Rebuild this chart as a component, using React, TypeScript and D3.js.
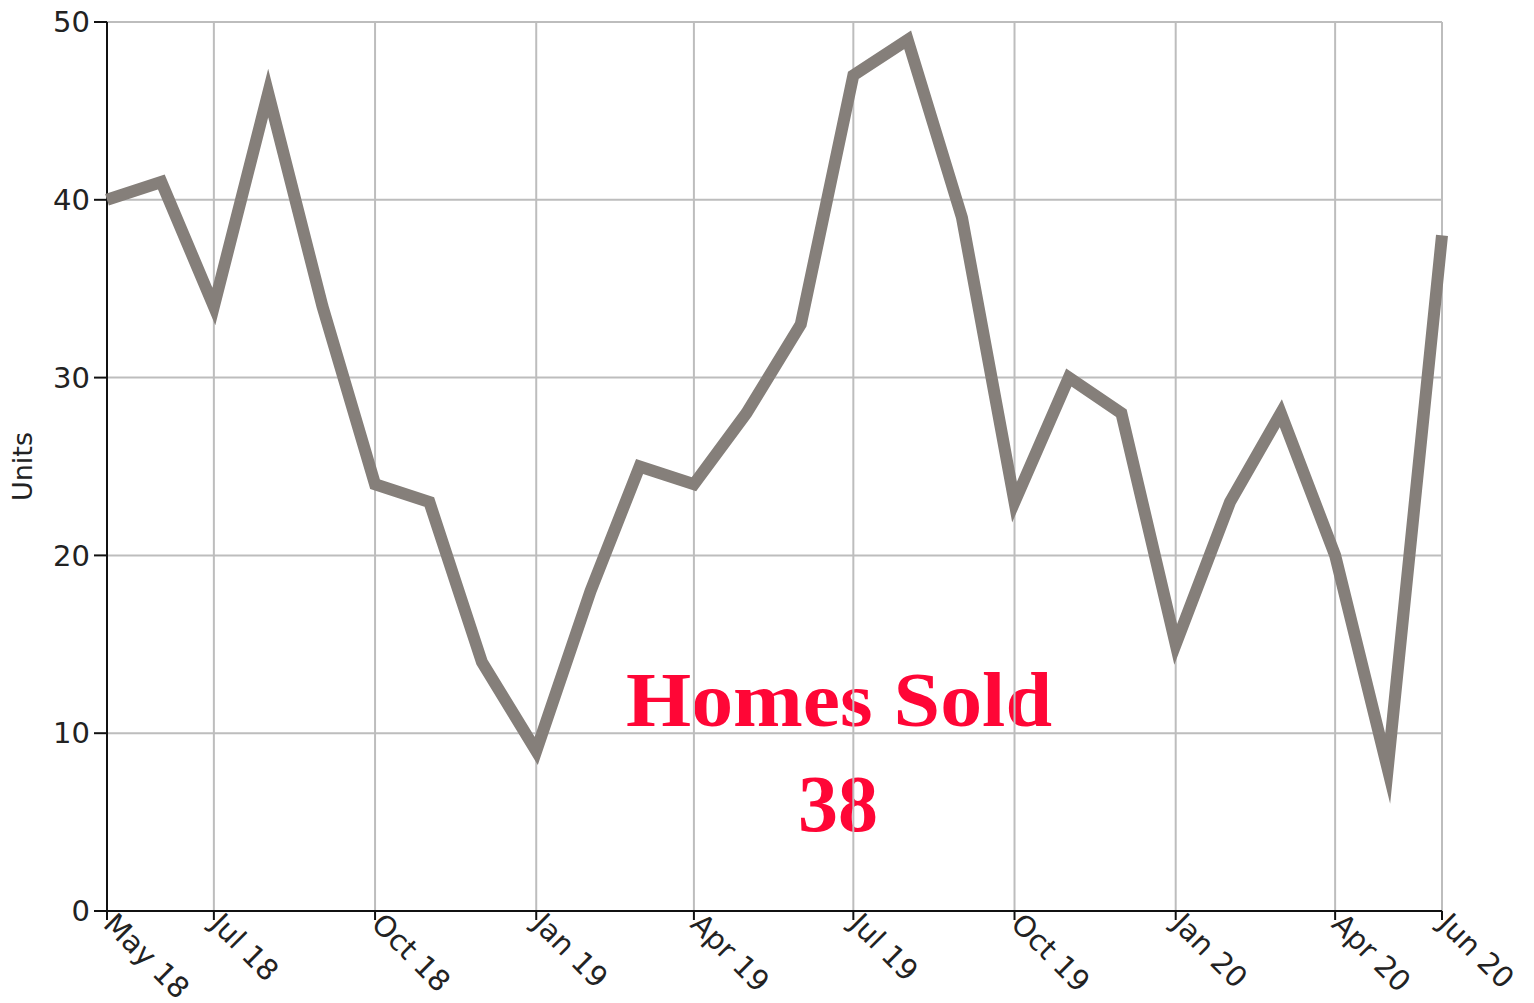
import React from "react";
import * as d3 from "d3";

const months = [
  "2018-05", "2018-06", "2018-07", "2018-08", "2018-09", "2018-10", "2018-11", "2018-12",
  "2019-01", "2019-02", "2019-03", "2019-04", "2019-05", "2019-06", "2019-07", "2019-08",
  "2019-09", "2019-10", "2019-11", "2019-12", "2020-01", "2020-02", "2020-03", "2020-04",
  "2020-05", "2020-06",
];
const unitsSold = [
  40, 41, 34, 46, 34, 24, 23, 14,
  9, 18, 25, 24, 28, 33, 47, 49,
  39, 23, 30, 28, 15, 23, 28, 20,
  8, 38,
];
const xTickMonths = [
  "2018-05", "2018-07", "2018-10", "2019-01", "2019-04",
  "2019-07", "2019-10", "2020-01", "2020-04", "2020-06",
];
const yTicks = [0, 10, 20, 30, 40, 50];
const yLabel = "Units";
const titleText = "Homes Sold";
const latestText = "38";

const W = 1534;
const H = 1003;
const M = { left: 107, right: 1442, top: 22, bottom: 911 };

const parseMonth = d3.timeParse("%Y-%m");
const fmt = d3.timeFormat("%b %y");

export default function App() {
  const dates = months.map((m) => parseMonth(m) as Date);
  const x = d3
    .scaleTime()
    .domain([parseMonth("2018-05") as Date, parseMonth("2020-06") as Date])
    .range([M.left, M.right]);
  const y = d3.scaleLinear().domain([0, 50]).range([M.bottom, M.top]);
  const line = d3
    .line<number>()
    .x((_, i) => x(dates[i]))
    .y((d) => y(d));
  const xt = xTickMonths.map((m) => parseMonth(m) as Date);
  const tickFont = "DejaVu Sans, sans-serif";
  const textColor = "#222";

  return (
    <svg
      width={W}
      height={H}
      style={{ position: "fixed", left: 0, top: 0, background: "#fff" }}
    >
      <g fill="#ff0636" fontFamily="Liberation Serif, Times New Roman, serif" fontWeight="bold" textAnchor="middle">
        <text x={839} y={726} fontSize={79} textLength={426} lengthAdjust="spacingAndGlyphs">
          {titleText}
        </text>
        <text x={838} y={831} fontSize={80}>
          {latestText}
        </text>
      </g>
      <g stroke="#bdbdbd" strokeWidth={2}>
        {yTicks.map((t) => (
          <line key={"gy" + t} x1={M.left} x2={M.right} y1={y(t)} y2={y(t)} />
        ))}
        {xt.map((d, i) => (
          <line key={"gx" + i} x1={x(d)} x2={x(d)} y1={M.top} y2={M.bottom} />
        ))}
      </g>
      <g stroke="#111" strokeWidth={2}>
        <line x1={M.left} x2={M.left} y1={M.top} y2={M.bottom} />
        <line x1={M.left} x2={M.right} y1={M.bottom} y2={M.bottom} />
        {yTicks.map((t) => (
          <line key={"ty" + t} x1={M.left - 13} x2={M.left} y1={y(t)} y2={y(t)} />
        ))}
        {xt.map((d, i) => (
          <line key={"tx" + i} x1={x(d)} x2={x(d)} y1={M.bottom} y2={M.bottom + 9} />
        ))}
      </g>
      <path
        d={line(unitsSold) || ""}
        fill="none"
        stroke="#857f7a"
        strokeWidth={12}
        strokeLinejoin="miter"
        strokeMiterlimit={10}
      />
      <g fontFamily={tickFont} fontSize={29} fill={textColor}>
        {yTicks.map((t) => (
          <text key={"ly" + t} x={M.left - 17} y={y(t)} dy="0.35em" textAnchor="end">
            {t}
          </text>
        ))}
        {xt.map((d, i) => (
          <text
            key={"lx" + i}
            transform={`translate(${x(d)},${M.bottom + 4}) rotate(45)`}
            x={4}
            dy="0.38em"
            textAnchor="start"
          >
            {fmt(d)}
          </text>
        ))}
        <text
          transform={`translate(32,${(M.top + M.bottom) / 2}) rotate(-90)`}
          textAnchor="middle"
          fontSize={27}
        >
          {yLabel}
        </text>
      </g>
    </svg>
  );
}
